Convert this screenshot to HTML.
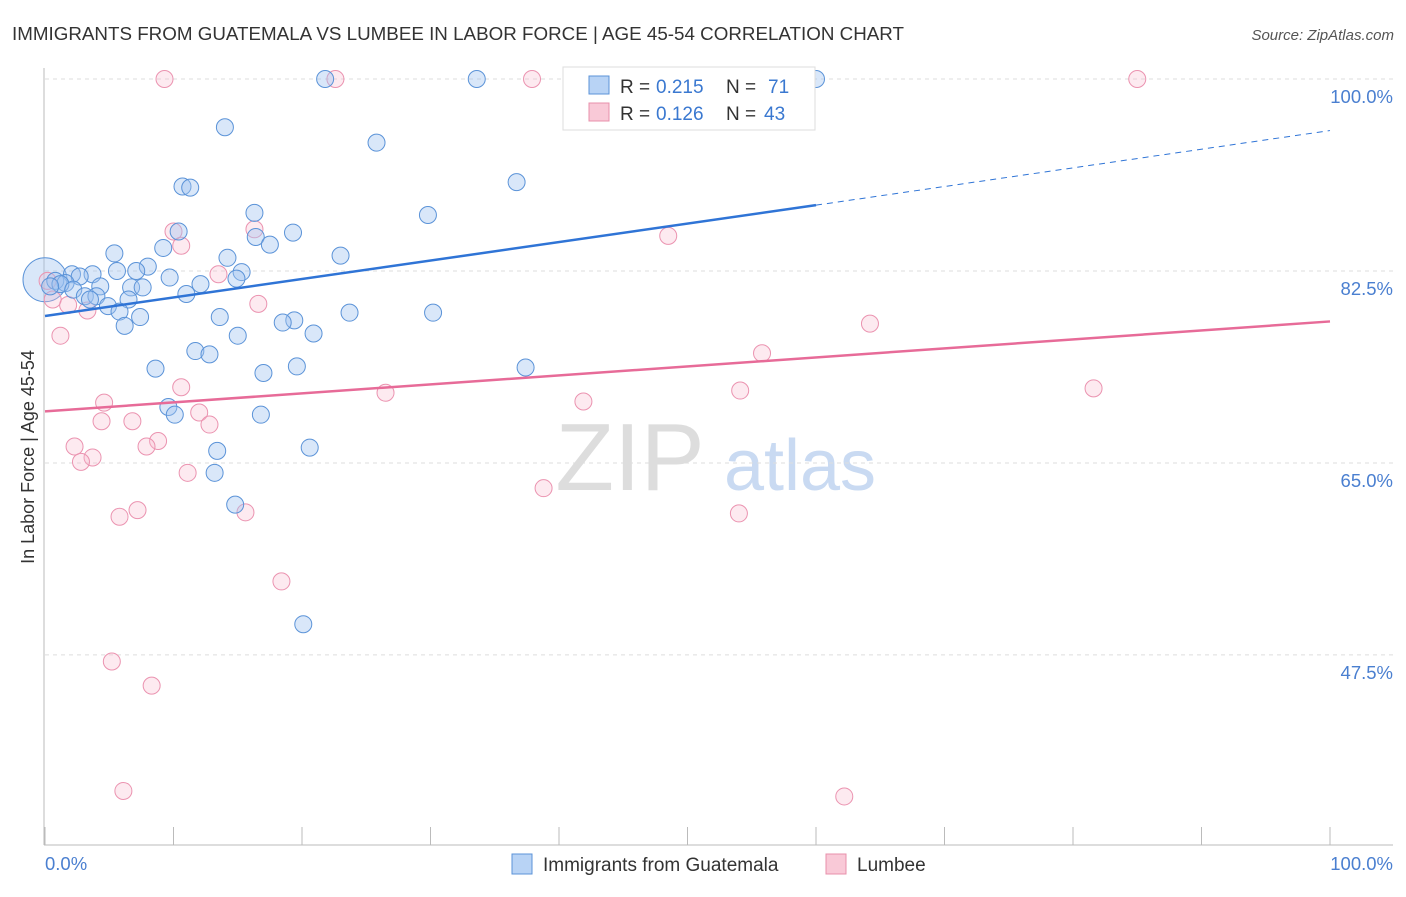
<!DOCTYPE html>
<html><head><meta charset="utf-8"><style>
body{margin:0;background:#fff;font-family:"Liberation Sans",sans-serif;}
svg text{font-family:"Liberation Sans",sans-serif;}
</style></head><body>
<svg id="chart" width="1406" height="892" xmlns="http://www.w3.org/2000/svg">
<text x="12" y="40" font-size="18" fill="#333" textLength="892" lengthAdjust="spacingAndGlyphs">IMMIGRANTS FROM GUATEMALA VS LUMBEE IN LABOR FORCE | AGE 45-54 CORRELATION CHART</text>
<text x="1394" y="40" font-size="15" fill="#555" font-style="italic" text-anchor="end">Source: ZipAtlas.com</text>
<g>
<text x="630" y="490" font-size="96" fill="#ddd" font-family="Liberation Serif" text-anchor="middle">ZIP</text>
<text x="800" y="490" font-size="72" fill="#c9daf2" text-anchor="middle">atlas</text>
</g>
<g id="grid"></g>
<g id="axes"></g>
<g id="marks"></g>
<text transform="translate(34,457) rotate(-90)" font-size="18" fill="#333" text-anchor="middle">In Labor Force | Age 45-54</text>
<g>
<rect x="563" y="67" width="252" height="63" fill="#fff" stroke="#ddd"/>
<rect x="589" y="76" width="20" height="18" fill="#b8d3f5" stroke="#5b93d8"/>
<text x="620" y="93" font-size="19" fill="#333">R =</text>
<text x="656" y="93" font-size="19" fill="#3a78d0">0.215</text>
<text x="726" y="93" font-size="19" fill="#333">N =</text>
<text x="768" y="93" font-size="19" fill="#3a78d0">71</text>
<rect x="589" y="103" width="20" height="18" fill="#f9c9d7" stroke="#e890ab"/>
<text x="620" y="120" font-size="19" fill="#333">R =</text>
<text x="656" y="120" font-size="19" fill="#3a78d0">0.126</text>
<text x="726" y="120" font-size="19" fill="#333">N =</text>
<text x="764" y="120" font-size="19" fill="#3a78d0">43</text>
</g>
<g>
<rect x="512" y="854" width="20" height="20" fill="#b8d3f5" stroke="#5b93d8"/>
<text x="543" y="871" font-size="19" fill="#333">Immigrants from Guatemala</text>
<rect x="826" y="854" width="20" height="20" fill="#f9c9d7" stroke="#e890ab"/>
<text x="857" y="871" font-size="19" fill="#333">Lumbee</text>
</g>
</svg>
<script>
const yTicks=[100,82.5,65,47.5];
const yTickLabels=["100.0%","82.5%","65.0%","47.5%"];
const xTickLabels=["0.0%","100.0%"];
const blueX=[21.8,33.6,60.0,14.0,25.8,10.7,11.3,36.7,29.8,16.3,19.3,10.4,16.4,17.5,9.2,23.0,5.4,14.2,8.0,15.3,5.6,7.1,3.7,2.1,2.7,9.7,14.9,12.1,0.8,1.6,1.2,0.4,4.3,6.7,7.6,11.0,2.2,3.1,4.0,6.5,3.5,4.9,5.8,7.4,13.6,23.7,30.2,19.4,18.5,6.2,20.9,15.0,11.7,12.8,19.6,37.4,8.6,17.0,9.6,10.1,16.8,13.4,20.6,13.2,14.8,20.1];
const blueY=[100,100,100,95.6,94.2,90.2,90.1,90.6,87.6,87.8,86.0,86.1,85.6,84.9,84.6,83.9,84.1,83.7,82.9,82.4,82.5,82.5,82.2,82.2,82.0,81.9,81.8,81.3,81.6,81.4,81.3,81.1,81.1,81.0,81.0,80.4,80.8,80.2,80.2,79.9,79.9,79.3,78.8,78.3,78.3,78.7,78.7,78.0,77.8,77.5,76.8,76.6,75.2,74.9,73.8,73.7,73.6,73.2,70.1,69.4,69.4,66.1,66.4,64.1,61.2,50.3];
const pinkX=[9.3,22.6,37.9,85.0,10.0,10.6,16.3,48.5,13.5,0.2,0.6,1.8,3.3,16.6,64.2,1.2,55.8,10.6,26.5,54.1,81.6,41.9,4.6,12.0,4.4,6.8,12.8,2.3,8.8,7.9,3.7,2.8,11.1,38.8,7.2,5.8,15.6,54.0,18.4,5.2,8.3,6.1,62.2];
const pinkY=[100,100,100,100,86.1,84.8,86.3,85.7,82.2,81.6,79.9,79.4,78.9,79.5,77.7,76.6,75.0,71.9,71.4,71.6,71.8,70.6,70.5,69.6,68.8,68.8,68.5,66.5,67.0,66.5,65.5,65.1,64.1,62.7,60.7,60.1,60.5,60.4,54.2,46.9,44.7,35.1,34.6];
const blueTrend=[78.4,88.5,95.3];
const pinkTrend=[69.7,77.9];
const X=v=>45+v*12.85, Y=v=>79+(100-v)*10.97;
const NS="http://www.w3.org/2000/svg";
function mk(parent,tag,attrs){const e=document.createElementNS(NS,tag);for(const k in attrs)e.setAttribute(k,attrs[k]);document.getElementById(parent).appendChild(e);return e;}
yTicks.forEach((t,i)=>{
 const g=mk('grid','line',{x1:45,x2:1393,y1:Y(t),y2:Y(t),stroke:'#ddd','stroke-dasharray':'4,4'});
 
 
 const l=mk('grid','text',{x:1393,y:Y(t)+24,'font-size':18.5,fill:'#4a7fd0','text-anchor':'end'});
 l.textContent=yTickLabels[i];
 
 
});
const ax=mk('axes','line',{x1:44,x2:44,y1:68,y2:845,stroke:'#bbb'});


const bx=mk('axes','line',{x1:44,x2:1393,y1:845,y2:845,stroke:'#bbb'});


for(let i=0;i<=10;i++){const t=mk('axes','line',{x1:X(i*10),x2:X(i*10),y1:827,y2:845,stroke:'#bbb'});
 
 }
[[0,'start',45],[100,'end',1393]].forEach((d,i)=>{const t=mk('axes','text',{x:d[2],y:870,'font-size':18.5,fill:'#4a7fd0','text-anchor':d[1]});t.textContent=xTickLabels[i];
 
 });
const big=mk('marks','circle',{cx:X(0),cy:Y(81.7),r:22,fill:'rgba(160,196,240,0.4)',stroke:'#5b93d8'});


pinkX.forEach((x,i)=>{const c=mk('marks','circle',{cx:X(x),cy:Y(pinkY[i]),r:8.5,fill:'rgba(247,184,204,0.3)',stroke:'#eb93b0'});
 
 });
blueX.forEach((x,i)=>{const c=mk('marks','circle',{cx:X(x),cy:Y(blueY[i]),r:8.5,fill:'rgba(160,196,240,0.4)',stroke:'#5b93d8'});
 
 });
const t1=mk('marks','line',{x1:X(0),y1:Y(blueTrend[0]),x2:X(60),y2:Y(blueTrend[1]),stroke:'#2f74d6','stroke-width':2.5});


const t2=mk('marks','line',{x1:X(60),y1:Y(blueTrend[1]),x2:X(100),y2:Y(blueTrend[2]),stroke:'#2f74d6','stroke-width':1,'stroke-dasharray':'6,5'});


const t3=mk('marks','line',{x1:X(0),y1:Y(pinkTrend[0]),x2:X(100),y2:Y(pinkTrend[1]),stroke:'#e76b98','stroke-width':2.5});


</script>
</body></html>
